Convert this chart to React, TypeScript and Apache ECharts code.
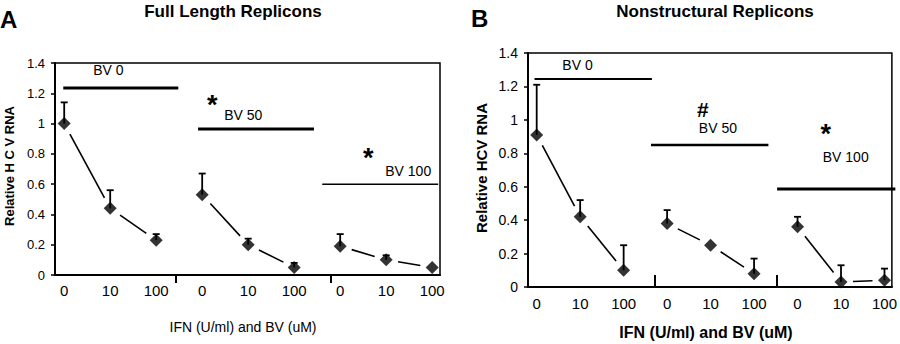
import React, { useEffect, useRef } from 'react';
import * as echarts from 'echarts';

// ---- data ----
const doseLabels = ['0', '10', '100', '0', '10', '100', '0', '10', '100'];
const bvLabels = ['BV 0', 'BV 50', 'BV 100'];

const fullMean = [1.0, 0.44, 0.23, 0.53, 0.2, 0.05, 0.19, 0.1, 0.05];
const fullUpper = [1.14, 0.56, 0.27, 0.67, 0.24, 0.08, 0.27, 0.13, 0.05];

const nsMean = [0.91, 0.42, 0.1, 0.38, 0.25, 0.08, 0.36, 0.03, 0.04];
const nsUpper = [1.21, 0.52, 0.25, 0.46, 0.25, 0.17, 0.42, 0.13, 0.11];

const yTickValues = [0, 0.2, 0.4, 0.6, 0.8, 1, 1.2, 1.4];

// significance marks per BV group (null = none)
const fullMarks = [null, '*', '*'];
const nsMarks = [null, '#', '*'];

// ---- layout (annotation placement in data space) ----
const FONT = '"Liberation Sans", Arial, sans-serif';

const leftLayout = {
  bars: [[-0.02, 2.48, 1.235], [2.91, 5.43, 0.964], [5.61, 8.13, 0.6]],
  barWidths: [3, 3, 1.5],
  labelPos: [[0.63, 1.354], [3.48, 1.057], [6.98, 0.69]],
  markPos: [null, [3.22, 1.165], [6.61, 0.81]],
  dividers: [2.43, 5.8],
};
const rightLayout = {
  bars: [[-0.05, 2.65, 1.245], [2.63, 5.33, 0.85], [5.53, 8.25, 0.587]],
  barWidths: [2, 2.5, 3],
  labelPos: [[0.59, 1.33], [3.73, 0.95], [6.58, 0.78]],
  markPos: [null, [3.82, 1.06], [6.65, 0.95]],
  dividers: [2.72, 5.53],
};

function buildPanelSeries(idx: number, mean: number[], upper: number[], marks: (string | null)[], layout: any) {
  const series: any[] = [];
  // connecting segments inside each BV group (trimmed around markers)
  const segData: number[][] = [];
  for (let g = 0; g < 3; g++) {
    for (let k = 0; k < 2; k++) {
      const i = g * 3 + k;
      segData.push([i, mean[i], i + 1, mean[i + 1]]);
    }
  }
  series.push({
    type: 'custom',
    xAxisIndex: idx,
    yAxisIndex: idx,
    data: segData,
    silent: true,
    z: 2,
    renderItem: (params: any, api: any) => {
      const p = api.coord([api.value(0), api.value(1)]);
      const q = api.coord([api.value(2), api.value(3)]);
      const dx = q[0] - p[0];
      const dy = q[1] - p[1];
      const len = Math.sqrt(dx * dx + dy * dy);
      const t = 12 / len;
      return {
        type: 'line',
        shape: {
          x1: p[0] + dx * t,
          y1: p[1] + dy * t,
          x2: q[0] - dx * t,
          y2: q[1] - dy * t,
        },
        style: { stroke: '#000', lineWidth: 1.6 },
      };
    },
  });
  // upper error bars
  series.push({
    type: 'custom',
    xAxisIndex: idx,
    yAxisIndex: idx,
    data: mean.map((v, i) => [i, v, upper[i]]),
    silent: true,
    z: 3,
    renderItem: (params: any, api: any) => {
      const top = api.value(2);
      const v = api.value(1);
      if (top <= v + 0.001) return null;
      const p = api.coord([api.value(0), v]);
      const q = api.coord([api.value(0), top]);
      return {
        type: 'group',
        children: [
          { type: 'line', shape: { x1: p[0], y1: p[1], x2: q[0], y2: q[1] }, style: { stroke: '#000', lineWidth: 1.8 } },
          { type: 'line', shape: { x1: q[0] - 3.5, y1: q[1], x2: q[0] + 3.5, y2: q[1] }, style: { stroke: '#000', lineWidth: 1.8 } },
        ],
      };
    },
  });
  // diamonds
  series.push({
    type: 'scatter',
    xAxisIndex: idx,
    yAxisIndex: idx,
    data: mean.map((v, i) => [i, v]),
    symbol: 'diamond',
    symbolSize: [13, 13],
    itemStyle: { color: '#000' },
    silent: true,
    z: 5,
  });
  // BV group bars
  series.push({
    type: 'custom',
    xAxisIndex: idx,
    yAxisIndex: idx,
    data: layout.bars.map((b: number[], g: number) => [b[0], b[2], b[1], layout.barWidths[g]]),
    silent: true,
    z: 2,
    renderItem: (params: any, api: any) => {
      const p = api.coord([api.value(0), api.value(1)]);
      const q = api.coord([api.value(2), api.value(1)]);
      return {
        type: 'line',
        shape: { x1: p[0], y1: p[1], x2: q[0], y2: q[1] },
        style: { stroke: '#000', lineWidth: api.value(3) },
      };
    },
  });
  // BV labels
  series.push({
    type: 'custom',
    xAxisIndex: idx,
    yAxisIndex: idx,
    data: layout.labelPos.map((p: number[], g: number) => [p[0], p[1], g]),
    silent: true,
    z: 6,
    renderItem: (params: any, api: any) => {
      const p = api.coord([api.value(0), api.value(1)]);
      const txt = bvLabels[api.value(2)];
      return {
        type: 'text',
        x: p[0],
        y: p[1],
        style: {
          text: txt,
          fill: '#000',
          font: `14px ${FONT}`,
          align: 'left',
          verticalAlign: 'middle',
          textAlign: 'left',
          textVerticalAlign: 'middle',
        },
      };
    },
  });
  // significance marks
  const markData: number[][] = [];
  marks.forEach((m, g) => {
    if (m && layout.markPos[g]) markData.push([layout.markPos[g][0], layout.markPos[g][1], g]);
  });
  series.push({
    type: 'custom',
    xAxisIndex: idx,
    yAxisIndex: idx,
    data: markData,
    silent: true,
    z: 6,
    renderItem: (params: any, api: any) => {
      const p = api.coord([api.value(0), api.value(1)]);
      const m = marks[api.value(2)] as string;
      const isStar = m === '*';
      return {
        type: 'text',
        x: p[0],
        y: p[1] + (isStar ? 6 : 0),
        style: {
          text: m,
          fill: '#000',
          font: `bold ${isStar ? 27 : 21}px ${FONT}`,
          align: 'center',
          verticalAlign: 'middle',
          textAlign: 'center',
          textVerticalAlign: 'middle',
        },
      };
    },
  });
  return series;
}

function xAxisFor(idx: number, layout: any) {
  const inside = idx === 1;
  return {
    gridIndex: idx,
    type: 'value',
    min: -0.2,
    max: 8.17,
    axisLine: { show: true, onZero: false, lineStyle: { color: '#000', width: 2 } },
    axisTick: {
      show: true,
      customValues: layout.dividers,
      inside,
      length: inside ? 12 : 8,
      lineStyle: { color: '#000', width: 2 },
    },
    axisLabel: {
      customValues: doseLabels.map((_, i) => i),
      formatter: (v: number) => doseLabels[Math.round(v)],
      color: '#000',
      fontSize: 15,
      fontFamily: FONT,
      margin: idx === 0 ? 8 : 9,
    },
    splitLine: { show: false },
  };
}

function yAxisFor(idx: number) {
  return {
    gridIndex: idx,
    type: 'value',
    min: yTickValues[0],
    max: yTickValues[yTickValues.length - 1],
    interval: 0.2,
    axisLine: { show: true, onZero: false, lineStyle: { color: '#000', width: 2 } },
    axisTick: { show: true, length: 4, lineStyle: { color: '#000', width: 1.5 } },
    axisLabel: {
      color: '#000',
      fontSize: idx === 0 ? 13 : 14,
      fontFamily: FONT,
      margin: 10,
      formatter: (v: number) => String(Math.round(v * 10) / 10),
    },
    splitLine: { show: false },
  };
}

function textEl(text: string, x: number, y: number, font: string, align = 'center', rotation = 0) {
  return {
    type: 'text',
    x,
    y,
    rotation,
    silent: true,
    style: {
      text,
      fill: '#000',
      font,
      align,
      verticalAlign: 'middle',
      textAlign: align,
      textVerticalAlign: 'middle',
    },
  };
}

export default function App() {
  const ref = useRef<HTMLDivElement>(null);
  useEffect(() => {
    if (!ref.current) return;
    const chart = echarts.init(ref.current, undefined, { renderer: 'svg' });
    const option: any = {
      animation: false,
      backgroundColor: '#fff',
      grid: [
        { left: 55, top: 63, width: 385, height: 212, show: true, borderColor: '#000', borderWidth: 1.5, backgroundColor: 'transparent' },
        { left: 528, top: 53, width: 366, height: 234, show: true, borderColor: '#000', borderWidth: 1.5, backgroundColor: 'transparent' },
      ],
      xAxis: [xAxisFor(0, leftLayout), xAxisFor(1, rightLayout)],
      yAxis: [yAxisFor(0), yAxisFor(1)],
      series: [
        ...buildPanelSeries(0, fullMean, fullUpper, fullMarks, leftLayout),
        ...buildPanelSeries(1, nsMean, nsUpper, nsMarks, rightLayout),
      ],
      graphic: [
        textEl('A', 0, 19, `bold 24px ${FONT}`, 'left'),
        textEl('B', 471, 18, `bold 24px ${FONT}`, 'left'),
        textEl('Full Length Replicons', 233, 11, `bold 17px ${FONT}`),
        textEl('Nonstructural Replicons', 715, 11, `bold 17px ${FONT}`),
        textEl('Relative H C V RNA', 9, 166, `bold 13px ${FONT}`, 'center', Math.PI / 2),
        textEl('Relative HCV RNA', 481, 168, `bold 15px ${FONT}`, 'center', Math.PI / 2),
        textEl('IFN (U/ml) and BV (uM)', 243, 327, `14px ${FONT}`),
        textEl('IFN (U/ml) and BV (uM)', 706, 332, `bold 16px ${FONT}`),
      ],
    };
    chart.setOption(option);
    return () => chart.dispose();
  }, []);
  return <div ref={ref} style={{ position: 'fixed', left: 0, top: 0, width: 900, height: 344 }} />;
}
